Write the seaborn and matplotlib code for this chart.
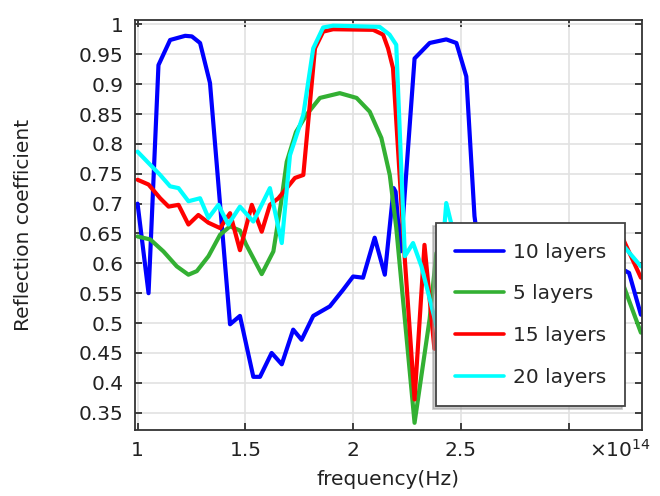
import numpy as np
import pandas as pd
import seaborn as sns
import matplotlib.pyplot as plt

# frequency in units of 1e14 Hz for each series
freq_10 = [1.0, 1.051, 1.097, 1.151, 1.221, 1.252, 1.29, 1.336, 1.429, 1.475, 1.537, 1.568,
           1.622, 1.669, 1.722, 1.761, 1.815, 1.892, 1.954, 2.0, 2.046, 2.1, 2.147, 2.188,
           2.197, 2.22, 2.285, 2.355, 2.432, 2.479, 2.525, 2.563, 2.61, 2.7, 2.8, 2.9, 3.0,
           3.1, 3.2, 3.25, 3.28, 3.335]
refl_10 = [0.70, 0.55, 0.932, 0.974, 0.981, 0.98, 0.969, 0.902, 0.498, 0.512, 0.41, 0.41,
           0.45, 0.431, 0.489, 0.472, 0.512, 0.528, 0.556, 0.578, 0.576, 0.643, 0.581, 0.726,
           0.72, 0.62, 0.943, 0.969, 0.975, 0.969, 0.913, 0.679, 0.55, 0.6, 0.62, 0.6, 0.62,
           0.6, 0.6, 0.59, 0.584, 0.514]

freq_5 = [1.0, 1.059, 1.12, 1.182, 1.236, 1.275, 1.329, 1.383, 1.429, 1.475, 1.503, 1.576,
          1.63, 1.665, 1.692, 1.735, 1.784, 1.846, 1.938, 2.016, 2.077, 2.131, 2.17, 2.2,
          2.285, 2.355, 2.386, 2.45, 2.6, 2.8, 3.0, 3.15, 3.25, 3.335]
refl_5 = [0.645, 0.64, 0.62, 0.595, 0.581, 0.587, 0.612, 0.648, 0.662, 0.655, 0.632, 0.582,
          0.62, 0.70, 0.77, 0.82, 0.849, 0.877, 0.885, 0.877, 0.854, 0.81, 0.748, 0.66,
          0.333, 0.507, 0.617, 0.64, 0.62, 0.6, 0.61, 0.6, 0.567, 0.484]

freq_15 = [1.0, 1.051, 1.105, 1.144, 1.19, 1.236, 1.282, 1.329, 1.383, 1.429, 1.475, 1.53,
           1.576, 1.614, 1.653, 1.692, 1.73, 1.769, 1.823, 1.861, 1.907, 2.093, 2.139, 2.162,
           2.185, 2.24, 2.285, 2.331, 2.377, 2.5, 2.7, 2.9, 3.1, 3.243, 3.335]
refl_15 = [0.74, 0.732, 0.709, 0.695, 0.698, 0.665, 0.681, 0.668, 0.659, 0.684, 0.622, 0.698,
           0.653, 0.698, 0.709, 0.726, 0.743, 0.748, 0.96, 0.988, 0.992, 0.991, 0.983, 0.96,
           0.927, 0.606, 0.372, 0.631, 0.457, 0.6, 0.64, 0.63, 0.645, 0.648, 0.576]

freq_20 = [1.0, 1.059, 1.105, 1.151, 1.19, 1.236, 1.29, 1.329, 1.375, 1.421, 1.475, 1.537,
           1.614, 1.669, 1.707, 1.769, 1.815, 1.861, 1.907, 2.123, 2.169, 2.2, 2.24, 2.278,
           2.317, 2.387, 2.432, 2.5, 2.7, 2.9, 3.1, 3.243, 3.335]
refl_20 = [0.787, 0.765, 0.748, 0.729, 0.726, 0.704, 0.709, 0.676, 0.698, 0.665, 0.695, 0.67,
           0.726, 0.634, 0.781, 0.849, 0.96, 0.995, 0.998, 0.996, 0.983, 0.966, 0.612, 0.634,
           0.595, 0.495, 0.701, 0.6, 0.63, 0.62, 0.64, 0.634, 0.595]

labels = ["10 layers", "5 layers", "15 layers", "20 layers"]
colors = ["#0000ff", "#33b033", "#ff0000", "#00ffff"]

series = [(freq_10, refl_10), (freq_5, refl_5), (freq_15, refl_15), (freq_20, refl_20)]
df = pd.concat(
    [pd.DataFrame({"freq": f, "refl": r, "series": lab}) for (f, r), lab in zip(series, labels)],
    ignore_index=True,
)

sns.set_theme(style="whitegrid")
plt.rcParams["font.family"] = ["DejaVu Sans"]

fig = plt.figure(figsize=(6.6, 4.96), dpi=100)
ax = fig.add_axes([0.2045, 0.1331, 0.7682, 0.8266])

sns.lineplot(data=df, x="freq", y="refl", hue="series", hue_order=labels,
             palette=dict(zip(labels, colors)), estimator=None, sort=False,
             linewidth=3.0, ax=ax)

ax.set_xlim(0.988, 3.34)
ax.set_ylim(0.321, 1.0075)
ax.set_xticks([1, 1.5, 2, 2.5, 3])
ax.set_xticklabels(["1", "1.5", "2", "2.5", ""])
yt = np.round(np.arange(0.35, 1.001, 0.05), 2)
ax.set_yticks(yt)
ax.set_yticklabels([f"{v:g}" for v in yt])

ax.grid(True, color="#e2e2e2", linewidth=1.2)
for s in ax.spines.values():
    s.set_color("#333333")
    s.set_linewidth(1.3)
ax.tick_params(direction="in", length=5, width=1.2, colors="#222222",
               top=True, right=True, bottom=True, left=True, labelsize=14.5, pad=8)

ax.set_xlabel("frequency(Hz)", fontsize=14.5, color="#222222", labelpad=7)
ax.set_ylabel("Reflection coefficient", fontsize=14.5, color="#222222", labelpad=33)
ax.text(1.018, -0.022, r"×10$^{14}$", transform=ax.transAxes, ha="right", va="top",
        fontsize=14.5, color="#222222")

leg = ax.legend(loc="lower left", bbox_to_anchor=(0.594, 0.0585), borderaxespad=0,
                fontsize=14.5, frameon=True, fancybox=False, framealpha=1,
                edgecolor="#444444",
                shadow={"ox": -2, "oy": -2, "color": "0.6", "alpha": 0.5},
                handlelength=2.4, labelspacing=1.13, borderpad=0.95, handletextpad=0.45)
leg.get_frame().set_linewidth(1.3)
for line in leg.get_lines():
    line.set_linewidth(2.6)

fig.savefig("out.png", dpi=100)
